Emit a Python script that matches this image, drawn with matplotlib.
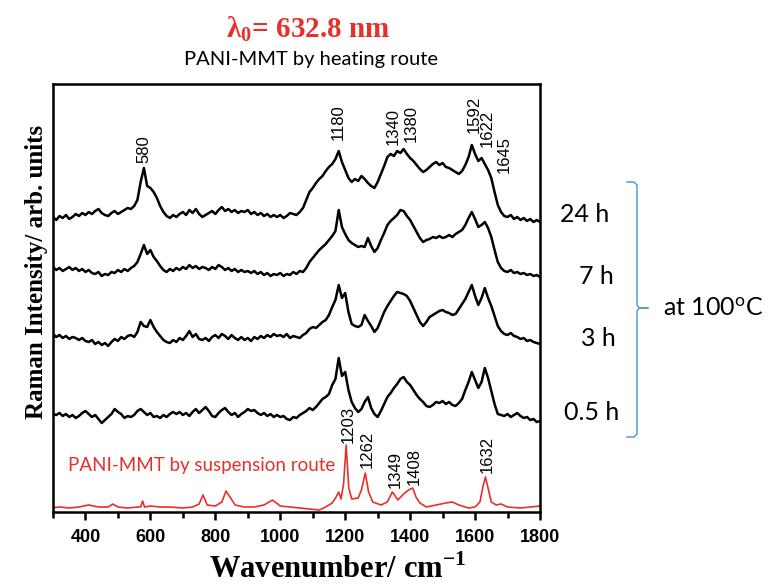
import numpy as np
import matplotlib
matplotlib.use('Agg')
import matplotlib.pyplot as plt
from matplotlib.lines import Line2D
from matplotlib.ticker import MultipleLocator

# shared wavenumber grid for the heated samples (cm-1)
wn = np.arange(290, 1801, 10)

# heating route spectra, arb. units (already stacked)
h24 = [293, 295, 292, 296, 294, 297, 293, 295, 298, 296,
       299, 297, 300, 298, 301, 303, 299, 297, 296, 299,
       301, 298, 300, 302, 304, 303, 306, 312, 330, 344,
       326, 324, 320, 314, 306, 300, 296, 294, 297, 295,
       298, 300, 297, 302, 299, 303, 298, 295, 297, 299,
       301, 298, 302, 305, 301, 303, 300, 302, 299, 301,
       300, 302, 298, 300, 297, 299, 296, 298, 295, 297,
       295, 297, 294, 296, 299, 298, 297, 300, 304, 312,
       320, 324, 329, 333, 336, 341, 345, 348, 353, 361,
       350, 342, 334, 330, 333, 331, 336, 333, 329, 326,
       324, 330, 338, 346, 355, 358, 356, 361, 359, 363,
       358, 354, 351, 347, 343, 340, 342, 345, 348, 350,
       347, 349, 345, 344, 342, 340, 338, 341, 347, 355,
       367, 358, 351, 354, 348, 342, 334, 320, 307, 300,
       296, 295, 297, 293, 295, 292, 294, 291, 293, 290,
       292, 290]

h7 = [243, 245, 242, 244, 241, 243, 245, 242, 244, 241,
      243, 240, 242, 239, 238, 240, 236, 238, 237, 240,
      239, 242, 240, 243, 241, 244, 246, 250, 258, 267,
      258, 262, 255, 251, 246, 242, 240, 243, 241, 244,
      242, 245, 243, 247, 244, 246, 243, 245, 244, 242,
      245, 243, 247, 245, 242, 244, 241, 243, 240, 242,
      240, 241, 239, 241, 238, 240, 237, 239, 236, 238,
      237, 239, 236, 238, 237, 240, 238, 241, 240, 244,
      250, 254, 258, 262, 265, 268, 272, 276, 281, 302,
      285, 278, 272, 269, 267, 265, 266, 265, 274, 266,
      260, 264, 272, 279, 287, 291, 294, 297, 302, 301,
      296, 292, 286, 280, 274, 270, 272, 273, 275, 274,
      276, 274, 275, 277, 275, 278, 280, 282, 287, 294,
      300, 293, 285, 287, 290, 284, 275, 262, 250, 244,
      241, 240, 242, 239, 240, 238, 239, 237, 238, 236,
      237, 235]

h3 = [176, 178, 175, 177, 174, 176, 173, 175, 174, 172,
      174, 171, 170, 172, 168, 170, 167, 169, 166, 170,
      173, 171, 175, 173, 176, 177, 175, 180, 190, 186,
      185, 192, 185, 180, 176, 172, 170, 169, 172, 170,
      174, 172, 176, 181, 175, 178, 173, 172, 174, 171,
      175, 177, 174, 178, 176, 173, 177, 174, 172, 175,
      172, 174, 171, 175, 173, 176, 174, 177, 175, 178,
      176, 177, 175, 178, 174, 176, 175, 174, 177, 179,
      183, 185, 184, 187, 190, 192, 197, 205, 212, 227,
      214, 219, 200, 188, 186, 185, 187, 197, 191, 186,
      180, 184, 192, 200, 206, 211, 216, 220, 219, 218,
      216, 211, 204, 197, 190, 186, 190, 195, 197, 199,
      201, 202, 200, 199, 197, 198, 203, 208, 213, 220,
      227, 216, 207, 214, 224, 214, 206, 196, 186, 181,
      178, 177, 179, 176, 175, 173, 174, 171, 172, 170,
      169, 168]

h05 = [96, 98, 97, 99, 96, 98, 95, 97, 94, 96,
       99, 101, 98, 95, 97, 93, 89, 92, 95, 98,
       103, 100, 98, 94, 96, 95, 97, 101, 103, 100,
       97, 99, 95, 96, 94, 97, 95, 98, 100, 98,
       100, 97, 99, 96, 100, 103, 99, 102, 105, 101,
       96, 95, 99, 102, 104, 100, 97, 99, 95, 98,
       100, 103, 101, 102, 99, 97, 99, 96, 98, 95,
       97, 95, 96, 93, 92, 95, 94, 97, 99, 101,
       104, 102, 105, 109, 113, 115, 118, 127, 133, 154,
       136, 140, 122, 110, 104, 100, 103, 110, 115, 104,
       98, 95, 101, 108, 115, 119, 124, 128, 133, 135,
       130, 127, 122, 117, 113, 110, 106, 105, 107, 110,
       109, 111, 108, 110, 107, 106, 109, 113, 122, 130,
       140, 132, 124, 130, 144, 134, 121, 108, 98, 97,
       96, 98, 95, 97, 99, 96, 94, 95, 92, 93,
       90, 91]

# suspension route spectrum (red)
wn_susp = [290, 320, 350, 380, 410, 440, 470, 484, 500, 530, 560, 570, 576, 582,
           600, 630, 660, 700, 730, 750, 762, 775, 800, 820, 833, 845, 861, 890,
           920, 950, 976, 1000, 1030, 1060, 1090, 1120, 1140, 1160, 1172, 1180,
           1187, 1195, 1203, 1211, 1220, 1240, 1250, 1262, 1272, 1285, 1310, 1330,
           1345, 1352, 1362, 1380, 1395, 1408, 1418, 1430, 1450, 1480, 1510, 1530,
           1550, 1580, 1600, 1615, 1624, 1632, 1640, 1650, 1665, 1680, 1700, 1740,
           1770, 1800]
h_susp = [4, 5, 4, 5, 7, 5, 5, 8, 5, 4, 5, 5, 11, 5,
          6, 5, 5, 4, 5, 8, 17, 7, 6, 10, 21, 15, 7, 5,
          5, 7, 12, 6, 5, 4, 3, 2, 5, 9, 15, 20,
          13, 28, 67, 24, 13, 14, 22, 39, 20, 10, 7, 10,
          20, 17, 12, 18, 22, 24, 15, 9, 5, 7, 9, 10,
          7, 4, 5, 10, 25, 35, 24, 10, 7, 8, 5, 4,
          5, 6]

heat_labels = ['580', '1180', '1340', '1380', '1592', '1622', '1645']
susp_labels = ['1203', '1262', '1349', '1408', '1632']
times = ['24 h', '7 h', '3 h', '0.5 h']

red = '#e8302a'
W, H = 769, 585

fig = plt.figure(figsize=(W / 100, H / 100), dpi=100)
ax = fig.add_axes((53 / W, 1 - 512 / H, (540 - 53) / W, (512 - 84) / H))

for s in [h24, h7, h3, h05]:
    ax.plot(wn, s, color='k', lw=1.8)
ax.plot(wn_susp, h_susp, color=red, lw=1.2)

ax.set_xlim(300, 1800)
ax.set_ylim(0, 428)
ax.set_yticks([])
ax.xaxis.set_major_locator(MultipleLocator(200))
ax.xaxis.set_minor_locator(MultipleLocator(100))
ax.tick_params(axis='x', which='major', direction='out', length=6, width=1.8, pad=6)
ax.tick_params(axis='x', which='minor', direction='out', length=4, width=1.8)
for lab in ax.get_xticklabels():
    lab.set_fontfamily('Liberation Sans')
    lab.set_fontweight('bold')
    lab.set_fontsize(13)
for sp in ax.spines.values():
    sp.set_linewidth(1.8)

# peak labels
pk = dict(rotation=90, ha='center', va='bottom', fontsize=12, family='Liberation Sans')
heat_pos = [(579, 349), (1179, 372), (1349, 367), (1404, 370), (1596, 379), (1636, 365), (1689, 339)]
for t, (x, y) in zip(heat_labels, heat_pos):
    ax.text(x, y, t, **pk)
susp_pos = [(1208, 69), (1269, 44), (1353, 24), (1412, 27), (1637, 39)]
for t, (x, y) in zip(susp_labels, susp_pos):
    ax.text(x, y, t, **pk)

ax.text(300 + 15 / 0.3236, 512 - 465, 'PANI-MMT by suspension route', color=red,
        family='Lato', fontsize=13.5, va='center', ha='left')

# titles and axis labels
fig.text(308 / W, 1 - 37 / H, r'λ$_\mathregular{0}$= 632.8 nm', color=red, ha='center',
         va='baseline', family='Liberation Serif', fontweight='bold', fontsize=21)
fig.text(311 / W, 1 - 65 / H, 'PANI-MMT by heating route', ha='center', va='baseline',
         family='Lato', fontsize=14.5)
fig.text(338 / W, 1 - 578 / H, r'Wavenumber/ cm$^\mathregular{-1}$', ha='center',
         va='baseline', family='Liberation Serif', fontweight='bold', fontsize=22)
fig.text(37 / W, 1 - 272 / H, 'Raman Intensity/ arb. units', rotation=90, ha='center',
         va='center', family='Liberation Serif', fontweight='bold', fontsize=18)

# time labels and bracket
time_pos = [(585, 215), (596, 277), (598, 338), (592, 412)]
for t, (x, y) in zip(times, time_pos):
    fig.text(x / W, 1 - y / H, t, ha='center', va='center', family='Lato', fontsize=18)

bx = [627, 634, 637, 637, 639, 648, 639, 637, 637, 634, 627]
by = [182, 182, 185, 305, 308, 308, 308, 311, 434, 437, 437]
fig.add_artist(Line2D([x / W for x in bx], [1 - y / H for y in by], color='#5b9bd5', lw=1.1))
fig.text(663 / W, 1 - 309 / H, r'at 100$^\mathregular{o}$C', ha='left', va='center',
         family='Lato', fontsize=18)

fig.savefig('out.png', dpi=100)
